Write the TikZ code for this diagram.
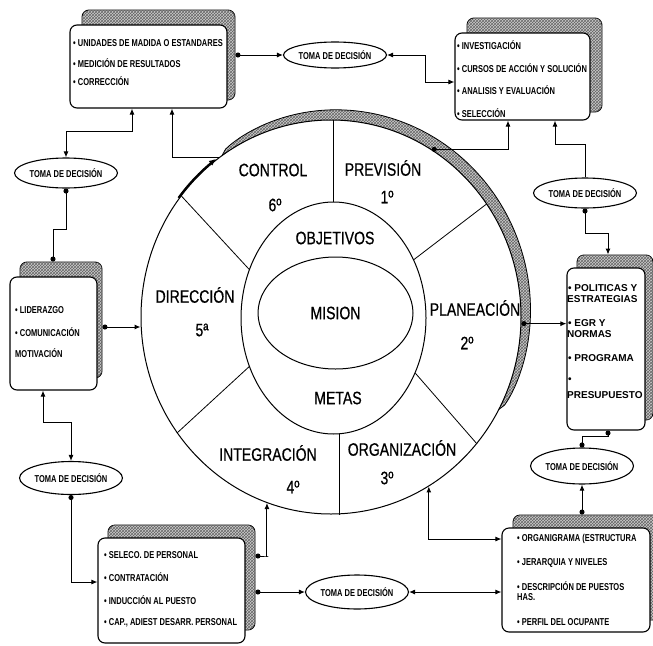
\documentclass[tikz,border=0pt]{standalone}
\usepackage{fontspec}
\setmainfont{Liberation Sans}
\newfontfamily\bigf[FakeStretch=0.78,FakeBold=0.6]{Liberation Sans}
\newfontfamily\smf[FakeStretch=0.75]{Liberation Sans}
\usetikzlibrary{shapes.geometric,arrows.meta,patterns}
\begin{document}
\begin{tikzpicture}[x=1pt,y=-1pt,
  >={Latex[length=6pt,width=5pt]},
  dot/.tip={Circle[length=5pt]},
  frontbox/.style={draw,line width=1.1pt,rounded corners=7pt,fill=white,inner sep=0pt},
  backbox/.style={draw,line width=0.9pt,rounded corners=7pt,inner sep=0pt,fill=black!20,postaction={pattern=crosshatch,pattern color=black!60}},
  toma/.style={ellipse,draw,line width=1.1pt,inner sep=0pt,fill=white,font=\smf\bfseries\fontsize{10}{12}\selectfont},
  big/.style={inner sep=0pt,font=\bigf\fontsize{18}{20}\selectfont},
  item/.style={anchor=west,inner sep=0pt,font=\smf\bfseries\fontsize{10}{12}\selectfont},
  itemr/.style={anchor=west,inner sep=0pt,font=\bfseries\fontsize{10}{12}\selectfont},
  conn/.style={line width=1pt},
  ring/.style={draw,ellipse,line width=1pt,inner sep=0pt},
  band/.style={fill=black!20,postaction={pattern=crosshatch,pattern color=black!60}},
]
\useasboundingbox (0,0) rectangle (653,645);
\fill[white] (0,0) rectangle (653,645);

% ---- central wheel ----
\fill[band] plot[domain=125:-28,samples=80] ({331+(190+12*pow(abs(sin((\x+28)/153*180)),0.4))*cos(\x)},{317-(197+12*pow(abs(sin((\x+28)/153*180)),0.4))*sin(\x)})
  -- plot[domain=-28:125,samples=60] ({331+190*cos(\x)},{317-197*sin(\x)}) -- cycle;
\draw[line width=0.8pt] plot[domain=125:-28,samples=80] ({331+(190+12*pow(abs(sin((\x+28)/153*180)),0.4))*cos(\x)},{317-(197+12*pow(abs(sin((\x+28)/153*180)),0.4))*sin(\x)});
\node[ring,minimum width=380pt,minimum height=394pt] (wheel) at (331,317) {};
\node[ring,minimum width=185pt,minimum height=232pt] (obj) at (333.5,318) {};
\node[ring,minimum width=155pt,minimum height=112pt,big] (mis) at (335.5,313) {MISION};

\draw[line width=0.8pt] (obj.north) -- (obj.north |- wheel.north);
\draw[line width=0.8pt] (obj.36) -- (wheel.36);
\draw[line width=0.8pt] (obj.-34) -- (wheel.-41);
\draw[line width=0.8pt] (obj.-87) -- (obj.-87 |- wheel.south);
\draw[line width=0.8pt] (obj.210) -- (wheel.217);
\draw[line width=0.8pt] (wheel.141) -- (obj.150);

\node[big] (lcontrol) at (273,170) {CONTROL};
\node[big] (ncontrol) at (275,205) {6º};
\node[big] (lprev) at (383,168) {PREVISIÓN};
\node[big] (nprev) at (387,197) {1º};
\node[big] (lobj) at (335,238) {OBJETIVOS};
\node[big] (ldir) at (195,295) {DIRECCIÓN};
\node[big] (ndir) at (202,330) {5ª};
\node[big] (lplan) at (475,308) {PLANEACIÓN};
\node[big] (nplan) at (467,343) {2º};
\node[big] (lmetas) at (338,398) {METAS};
\node[big] (lint) at (268,453) {INTEGRACIÓN};
\node[big] (nint) at (293,487) {4º};
\node[big] (lorg) at (402,448) {ORGANIZACIÓN};
\node[big] (norg) at (387,478) {3º};

% ---- boxes ----
\node[backbox,minimum width=153pt,minimum height=90pt] (tlb) at (158.5,55) {};
\node[frontbox,minimum width=157pt,minimum height=83pt] (tl) at (148.5,66.5) {};
\node[backbox,minimum width=135pt,minimum height=94pt] (trb) at (534.5,65) {};
\node[frontbox,minimum width=135pt,minimum height=87pt] (tr) at (522.5,76.5) {};
\node[backbox,minimum width=82pt,minimum height=116pt] (lb) at (61,320) {};
\node[frontbox,minimum width=87pt,minimum height=113pt] (lf) at (53.5,333.5) {};
\node[backbox,minimum width=76pt,minimum height=165pt] (rb) at (615,337.5) {};
\node[frontbox,minimum width=78pt,minimum height=162pt] (rf) at (606,349) {};
\node[backbox,minimum width=147pt,minimum height=105pt] (blb) at (181.5,577.5) {};
\node[frontbox,minimum width=147pt,minimum height=105pt] (bl) at (171.5,590.5) {};
\node[backbox,minimum width=147pt,minimum height=105pt] (brb) at (586.5,567.5) {};
\node[frontbox,minimum width=148pt,minimum height=104pt] (br) at (576,580) {};

\node[item] (t1) at (73,43) {• UNIDADES DE MADIDA O ESTANDARES};
\node[item] (t2) at (73,63) {• MEDICIÓN DE RESULTADOS};
\node[item] (t3) at (73,81) {• CORRECCIÓN};

\node[item] (u1) at (457,45) {• INVESTIGACIÓN};
\node[item] (u2) at (457,68) {• CURSOS DE ACCIÓN Y SOLUCIÓN};
\node[item] (u3) at (457,90) {• ANALISIS Y EVALUACIÓN};
\node[item] (u4) at (457,113) {• SELECCIÓN};

\node[item] (v1) at (15,310) {• LIDERAZGO};
\node[item] (v2) at (15,332) {• COMUNICACIÓN};
\node[item] (v3) at (15,353) {MOTIVACIÓN};

\node[itemr] (w1) at (568,288) {• POLITICAS Y};
\node[itemr] (w2) at (567,299) {ESTRATEGIAS};
\node[itemr] (w3) at (568,323) {• EGR Y};
\node[itemr] (w4) at (567,334) {NORMAS};
\node[itemr] (w5) at (568,358) {• PROGRAMA};
\node[itemr] (w6) at (568,380) {•};
\node[itemr] (w7) at (567,395) {PRESUPUESTO};

\node[item] (x1) at (517,539) {• ORGANIGRAMA (ESTRUCTURA};
\node[item] (x2) at (517,563) {• JERARQUIA Y NIVELES};
\node[item] (x3) at (517,586) {• DESCRIPCIÓN DE PUESTOS};
\node[item] (x4) at (517,597) {HAS.};
\node[item] (x5) at (517,622) {• PERFIL DEL OCUPANTE};

\node[item] (y1) at (104,555) {• SELECO. DE PERSONAL};
\node[item] (y2) at (104,577) {• CONTRATACIÓN};
\node[item] (y3) at (104,600) {• INDUCCIÓN AL PUESTO};
\node[item] (y4) at (104,623) {• CAP., ADIEST DESARR. PERSONAL};

% ---- decision ellipses ----
\node[toma,minimum width=84pt,minimum height=26pt] (e1) at (335,55) {TOMA DE DECISIÓN};
\node[toma,minimum width=80pt,minimum height=30pt] (e2) at (585,193) {TOMA DE DECISIÓN};
\node[toma,minimum width=82pt,minimum height=36pt] (e3) at (582,466) {TOMA DE DECISIÓN};
\node[toma,minimum width=80pt,minimum height=34pt] (e4) at (357,592) {TOMA DE DECISIÓN};
\node[toma,minimum width=82pt,minimum height=30pt] (e5) at (66,173) {TOMA DE DECISIÓN};
\node[toma,minimum width=82pt,minimum height=33pt] (e6) at (71,478) {TOMA DE DECISIÓN};

% ---- connectors ----
\coordinate (lbR) at ([yshift=-7pt]lb.east);
\coordinate (planR) at (wheel.-2);
\draw[conn,dot->] (tlb.east) -- (e1.west);
\draw[conn,<->] (e1.east) -- ++(38,0) |- ([yshift=-5.5pt]tr.west);
\draw[conn,dot->] (wheel.59) -| ([xshift=-14.5pt]tr.south);
\draw[conn,->] (e2.north) -- ++(0,-33) -| ([xshift=32.5pt]tr.south);
\draw[conn,dot->] (e2.south) -- ++(0,25) -| ([xshift=-7pt]rb.north);
\draw[conn,dot->] (planR) -- (planR -| rf.west);
\draw[conn,dot-dot] ([xshift=2pt]rf.south) -- ++(0,6) -| (e3.north);
\draw[conn,dot->] (e3.south |- brb.north) -- (e3.south);
\draw[conn,<->] (wheel.-60) |- ([yshift=41pt]br.west);
\draw[conn,<->] (e4.east) -- (e4.east -| br.west);
\draw[conn,dot->] ([yshift=-14.5pt]blb.east) -- (e4.west);
\draw[conn,dot->] ([yshift=21.5pt]blb.east) -- ++(13,0) -| (wheel.-109);
\draw[conn,dot->] (e6.south) |- ([yshift=8.5pt]bl.west);
\draw[conn,<->] ([xshift=-10.5pt]lf.south) -- ++(0,32) -| (e6.north);
\draw[conn,dot->] (lbR) -- (lbR -| wheel.west);
\draw[conn,dot-dot] ([xshift=-8pt]lb.north) -- ++(0,-32) -| (e5.south);
\draw[conn,<->] (e5.north) -- ++(0,-26) -| ([xshift=-16.5pt]tl.south);
\draw[conn,->] (wheel.125) -| ([xshift=23.5pt]tl.south);
\draw[line width=2pt,-{Latex[length=7pt,width=6pt]}] plot[domain=143:127,samples=20] ({331+191*cos(\x)},{317-198*sin(\x)});
\end{tikzpicture}
\end{document}
